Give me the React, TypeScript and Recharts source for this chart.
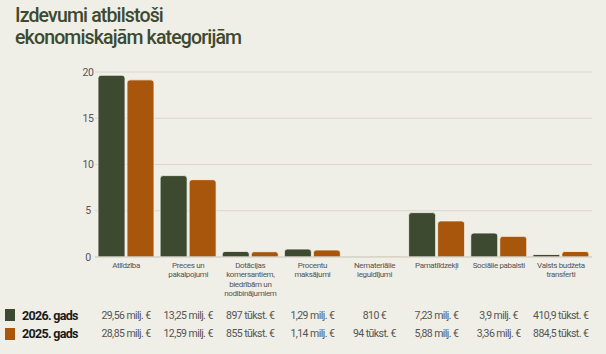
import { Bar, BarChart, CartesianGrid, XAxis, YAxis } from "recharts";

const categories = [
  "Atlīdzība",
  "Preces un\npakalpojumi",
  "Dotācijas\nkomersantiem,\nbiedrībām un\nnodibinājumiem",
  "Procentu\nmaksājumi",
  "Nemateriālie\nieguldījumi",
  "Pamatlīdzekļi",
  "Sociālie pabalsti",
  "Valsts budžeta\ntransferti",
];

const values2026 = [19.65, 8.8, 0.6, 0.86, 0.0, 4.8, 2.59, 0.27];
const values2025 = [19.15, 8.36, 0.57, 0.76, 0.08, 3.9, 2.23, 0.59];

const labels2026 = [
  "29,56 milj. €",
  "13,25 milj. €",
  "897 tūkst. €",
  "1,29 milj. €",
  "810 €",
  "7,23 milj. €",
  "3,9 milj. €",
  "410,9 tūkst. €",
];
const labels2025 = [
  "28,85 milj. €",
  "12,59 milj. €",
  "855 tūkst. €",
  "1,14 milj. €",
  "94 tūkst. €",
  "5,88 milj. €",
  "3,36 milj. €",
  "884,5 tūkst. €",
];

const yTicks = [0, 5, 10, 15, 20];

const GREEN = "#3d4a2f";
const ORANGE = "#a8560c";
const BG = "#efeee7";
const FONT = "Roboto, 'Noto Sans', sans-serif";

const data = categories.map((name, i) => ({
  name,
  y2026: values2026[i],
  y2025: values2025[i],
}));

function CategoryTick({ x, y, payload }: any) {
  const lines = String(payload.value).split("\n");
  return (
    <text
      x={x}
      y={y}
      textAnchor="middle"
      fontSize={8}
      fill="#555"
      fontFamily={FONT}
      letterSpacing={-0.35}
    >
      {lines.map((l, i) => (
        <tspan key={i} x={x} dy={i === 0 ? 9 : 9.4}>
          {l}
        </tspan>
      ))}
    </text>
  );
}

function ValueTick({ x, y, payload }: any) {
  return (
    <text
      x={x + 1}
      y={y}
      textAnchor="middle"
      dominantBaseline="central"
      fontSize={10.5}
      fill="#555"
      fontFamily={FONT}
      letterSpacing={-0.3}
    >
      {payload.value}
    </text>
  );
}

function LegendRow({ color, label, values }: { color: string; label: string; values: string[] }) {
  return (
    <div style={{ display: "flex", alignItems: "center", height: 18.5 }}>
      <div style={{ width: 95, display: "flex", alignItems: "center" }}>
        <div style={{ width: 10, height: 12, background: color, marginLeft: 5, marginRight: 7 }} />
        <span style={{ fontWeight: 700, fontSize: 12.5, color: "#1a1a1a", letterSpacing: -0.7 }}>{label}</span>
      </div>
      {values.map((v, i) => (
        <div
          key={i}
          style={{
            width: 62.1,
            textAlign: "center",
            fontSize: 10.5,
            color: "#555",
            letterSpacing: -0.55,
            whiteSpace: "nowrap",
          }}
        >
          {v}
        </div>
      ))}
    </div>
  );
}

export default function App() {
  return (
    <div
      style={{
        position: "fixed",
        left: 0,
        top: 0,
        width: 606,
        height: 354,
        background: BG,
        fontFamily: FONT,
        overflow: "hidden",
      }}
    >
      <div
        style={{
          position: "absolute",
          left: 15,
          top: 5,
          fontSize: 19.5,
          lineHeight: "22px",
          fontWeight: 500,
          color: GREEN,
          letterSpacing: -0.85,
        }}
      >
        Izdevumi atbilstoši
        <br />
        ekonomiskajām kategorijām
      </div>
      <div style={{ position: "absolute", left: 0, top: 0 }}>
        <BarChart
          width={606}
          height={354}
          data={data}
          margin={{ top: 72, right: 14, left: 65, bottom: 57 }}
          barSize={27}
          barGap={2}
        >
          <CartesianGrid vertical={false} stroke="#d9d7cd" strokeWidth={1.2} />
          <XAxis
            dataKey="name"
            height={40}
            interval={0}
            tick={<CategoryTick />}
            tickSize={0}
            axisLine={{ stroke: "#cfcdc3" }}
            tickLine={false}
          />
          <YAxis
            width={30}
            domain={[0, 20]}
            ticks={yTicks}
            tick={<ValueTick />}
            axisLine={false}
            tickLine={false}
          />
          <Bar
            dataKey="y2026"
            fill={GREEN}
            stroke="#f7f6f0"
            strokeWidth={0.8}
            radius={[3, 3, 0, 0]}
            isAnimationActive={false}
          />
          <Bar
            dataKey="y2025"
            fill={ORANGE}
            stroke="#f7f6f0"
            strokeWidth={0.8}
            radius={[3, 3, 0, 0]}
            isAnimationActive={false}
          />
        </BarChart>
      </div>
      <div style={{ position: "absolute", left: 0, top: 306 }}>
        <LegendRow color={GREEN} label="2026. gads" values={labels2026} />
        <LegendRow color={ORANGE} label="2025. gads" values={labels2025} />
      </div>
    </div>
  );
}
